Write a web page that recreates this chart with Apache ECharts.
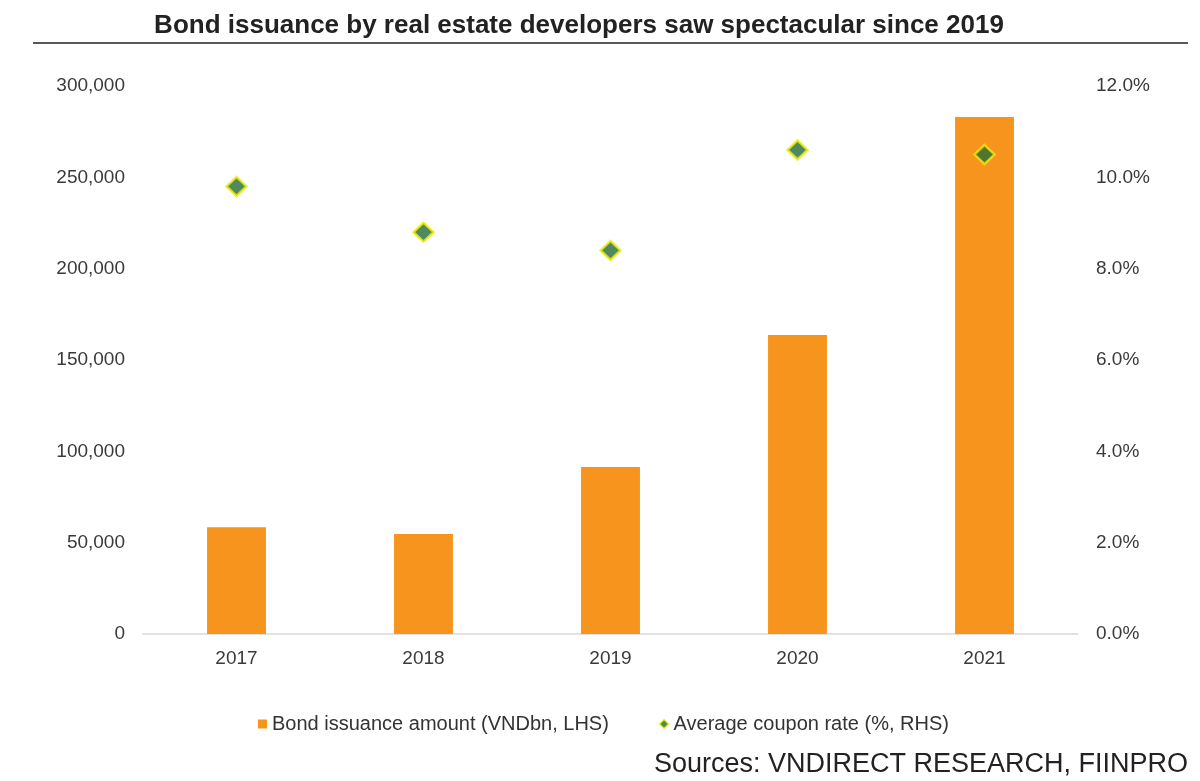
<!DOCTYPE html>
<html><head><meta charset="utf-8">
<script src="https://cdn.jsdelivr.net/npm/echarts@6/dist/echarts.min.js"></script>
<style>html,body{margin:0;padding:0;background:#fff}#c{width:1200px;height:781px}</style>
</head><body><div id="c"></div>
<script>
const categories = ['2017','2018','2019','2020','2021'];
const issuance = [58500, 54700, 91400, 163700, 283000];
const coupon = [9.8, 8.8, 8.4, 10.6, 10.5];

const chart = echarts.init(document.getElementById('c'));
const FF = 'Liberation Sans, Arial, sans-serif';
const lab = {color:'#3a3a3a', fontSize:19, fontFamily:FF};
chart.setOption({
  animation:false,
  title:{text:'Bond issuance by real estate developers saw spectacular since 2019', left:574, textAlign:'center', top:8,
    textStyle:{fontSize:26, fontWeight:'bold', color:'#222', fontFamily:FF}},
  graphic:[
    {type:'line', shape:{x1:33,y1:43,x2:1188,y2:43}, style:{stroke:'#222', lineWidth:1.5}},
    {type:'text', right:12, top:751, style:{text:'Sources: VNDIRECT RESEARCH, FIINPRO', fontSize:27, fill:'#222', fontFamily:FF}}
  ],
  grid:{left:143, right:122, top:86, bottom:147},
  legend:{top:709, left:253, itemGap:50, itemWidth:9, itemHeight:9,
    textStyle:{color:'#333', fontSize:20, fontFamily:FF},
    data:[{name:'Bond issuance amount (VNDbn, LHS)', icon:'rect'},{name:'Average coupon rate (%, RHS)', icon:'diamond', itemStyle:{color:'#1f6b3b', borderColor:'#f5f500', borderWidth:1.5}}]},
  xAxis:{type:'category', data:categories, axisTick:{show:false},
    axisLine:{lineStyle:{color:'#d9d9d9', width:1.5}}, axisLabel:Object.assign({margin:15}, lab)},
  yAxis:[
    {type:'value', min:0, max:300000, interval:50000, splitLine:{show:false}, axisLine:{show:false}, axisTick:{show:false},
      axisLabel:Object.assign({margin:18, formatter:v=>v.toLocaleString('en-US')}, lab)},
    {type:'value', min:0, max:12, interval:2, splitLine:{show:false}, axisLine:{show:false}, axisTick:{show:false},
      axisLabel:Object.assign({margin:18, formatter:v=>v.toFixed(1)+'%'}, lab)}
  ],
  series:[
    {name:'Bond issuance amount (VNDbn, LHS)', type:'bar', data:issuance, barWidth:'31.5%', itemStyle:{color:'#f7941d'}},
    {name:'Average coupon rate (%, RHS)', type:'scatter', yAxisIndex:1, data:coupon, symbol:'diamond', symbolSize:[20,19],
      itemStyle:{color:'#246b3a', borderColor:'#f0f000', borderWidth:2.5}}
  ]
});
</script></body></html>
